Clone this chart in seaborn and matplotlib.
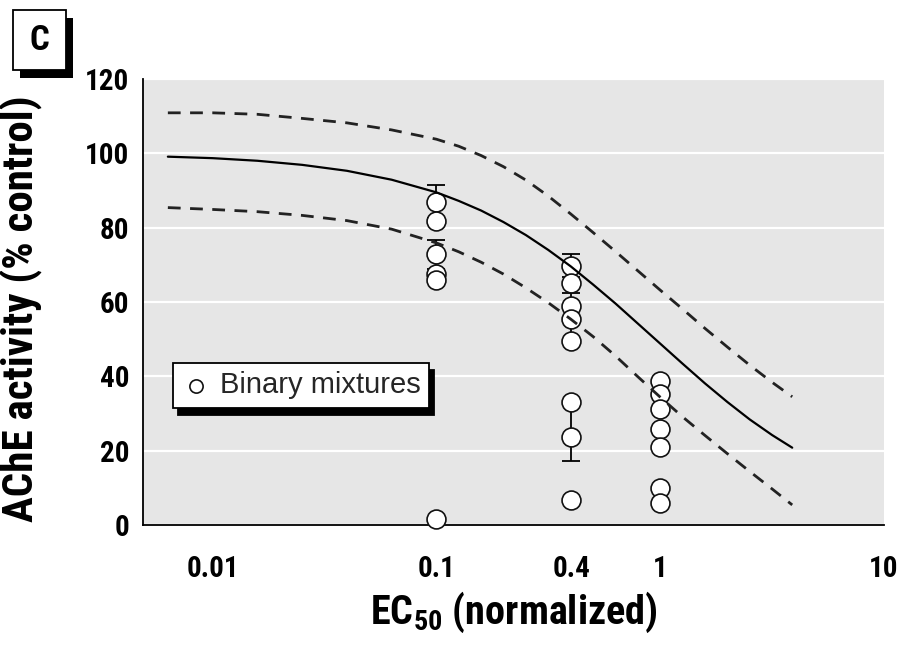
import matplotlib
matplotlib.use("Agg")
import matplotlib.pyplot as plt
from matplotlib import font_manager
from matplotlib.font_manager import FontProperties
from matplotlib.patches import Rectangle
import pandas as pd
import seaborn as sns

# Binary mixtures: dose (fraction of EC50) and measured AChE activity (% control)
mix_dose = [0.1, 0.1, 0.1, 0.1, 0.1, 0.1,
            0.4, 0.4, 0.4, 0.4, 0.4, 0.4, 0.4, 0.4,
            1.0, 1.0, 1.0, 1.0, 1.0, 1.0, 1.0]
mix_activity = [87.0, 81.8, 72.8, 67.5, 65.8, 1.6,
                69.8, 65.0, 58.9, 55.5, 49.5, 33.2, 23.6, 6.8,
                38.7, 35.3, 31.2, 25.8, 20.9, 9.9, 5.9]
mix_err_low = [4.4, 0, 4.0, 0, 0, 0,
               3.0, 0, 3.5, 0, 0, 0, 6.3, 0,
               0, 0, 0, 0, 0, 0, 0]
mix_err_high = [4.4, 0, 4.0, 0, 0, 0,
                3.0, 0, 3.5, 0, 5.0, 0, 9.6, 0,
                0, 0, 0, 0, 0, 0, 0]

# Predicted dose-response curve and its prediction band
curve_dose = [0.00631, 0.01, 0.01585, 0.02512, 0.03981, 0.0631, 0.1,
              0.1259, 0.1585, 0.1995, 0.2512, 0.3162, 0.3981, 0.5012,
              0.631, 0.7943, 1.0, 1.259, 1.585, 1.995, 2.512, 3.162, 3.89]
curve_mean = [99.1, 98.7, 98.0, 96.9, 95.3, 92.9, 89.5,
              87.2, 84.6, 81.5, 78.0, 74.0, 69.6, 64.7,
              59.6, 54.2, 48.8, 43.4, 38.1, 33.1, 28.4, 24.2, 20.8]
curve_upper = [110.9, 110.9, 110.5, 109.4, 108.2, 106.3, 103.8,
               101.9, 99.4, 96.4, 92.8, 88.5, 83.7, 78.7,
               73.6, 68.4, 63.2, 58.1, 52.9, 47.9, 43.0, 38.4, 34.5]
curve_lower = [85.4, 84.9, 84.3, 83.3, 81.9, 79.6, 75.9,
               73.5, 70.7, 67.5, 63.8, 59.8, 55.4, 50.7,
               45.5, 39.9, 34.4, 29.1, 24.1, 19.2, 14.4, 9.7, 5.4]

x_ticks = [0.01, 0.1, 0.4, 1, 10]
x_tick_labels = ["0.01", "0.1", "0.4", "1", "10"]
y_ticks = [0, 20, 40, 60, 80, 100, 120]

sns.set_theme(style="white")

available = {f.name for f in font_manager.fontManager.ttflist}
narrow = next((n for n in ["Liberation Sans Narrow", "Roboto Condensed",
                           "Liberation Sans"] if n in available), "DejaVu Sans")
regular = "Liberation Sans" if "Liberation Sans" in available else "DejaVu Sans"
plt.rcParams["font.family"] = [narrow, "DejaVu Sans"]
plt.rcParams["mathtext.default"] = "regular"

fig = plt.figure(figsize=(9, 6.47), dpi=100)
ax = fig.add_axes([0.1592, 0.1886, 0.8230, 0.6893])
ax.set_facecolor("#e6e6e6")

mix = pd.DataFrame({"dose": mix_dose, "activity": mix_activity,
                    "lo": mix_err_low, "hi": mix_err_high})
curve = pd.DataFrame({"dose": curve_dose, "mean": curve_mean,
                      "upper": curve_upper, "lower": curve_lower})

# error bars sit underneath the open circles
bars = mix[(mix["lo"] > 0) | (mix["hi"] > 0)]
ax.errorbar(bars["dose"], bars["activity"], yerr=[bars["lo"], bars["hi"]],
            fmt="none", ecolor="black", elinewidth=1.3, capsize=6.5,
            capthick=1.3, zorder=3)

sns.scatterplot(data=mix, x="dose", y="activity", ax=ax, s=185,
                color="white", edgecolor="#111111", linewidth=1.2,
                zorder=4, clip_on=False, label="Binary mixtures")

sns.lineplot(data=curve, x="dose", y="mean", ax=ax, color="black",
             linewidth=1.6, zorder=5, sort=True, estimator=None)
for col in ["upper", "lower"]:
    sns.lineplot(data=curve, x="dose", y=col, ax=ax, color="#222222",
                 linewidth=2.0, linestyle=(0, (4.6, 3.4)), zorder=5,
                 sort=True, estimator=None)

ax.set_xscale("log")
ax.set_xlim(0.0049, 10)
ax.set_ylim(0, 120)
ax.set_xticks(x_ticks)
ax.set_xticklabels(x_tick_labels)
ax.xaxis.set_minor_locator(matplotlib.ticker.NullLocator())
ax.set_yticks(y_ticks)
ax.set_yticklabels([str(v) for v in y_ticks])

ax.yaxis.grid(True, color="white", linewidth=1.6)
ax.xaxis.grid(False)
ax.set_axisbelow(True)

for side in ["top", "right"]:
    ax.spines[side].set_visible(False)
for side in ["left", "bottom"]:
    ax.spines[side].set_color("black")
    ax.spines[side].set_linewidth(1.3)

ax.tick_params(axis="x", direction="out", length=13.5, width=1.3,
               color="black", pad=8, labelsize=21, labelcolor="black")
ax.tick_params(axis="y", length=0, pad=10, labelsize=21, labelcolor="black")
for lab in ax.get_xticklabels() + ax.get_yticklabels():
    lab.set_fontweight("bold")

ax.set_xlabel("EC$_{50}$ (normalized)", fontsize=29, fontweight="bold",
              color="black")
ax.xaxis.set_label_coords(0.50, -0.145)
ax.set_ylabel("AChE activity (% control)", fontsize=31, fontweight="bold",
              color="black")
ax.yaxis.set_label_coords(-0.135, 0.485)

leg = ax.legend(loc="upper left", bbox_to_anchor=(0.040, 0.364),
                borderaxespad=0, frameon=True, fancybox=False,
                shadow={"ox": 3.6, "oy": -5, "facecolor": "black",
                        "edgecolor": "black", "alpha": 1},
                prop=FontProperties(family=regular, size=21),
                markerscale=0.7, handletextpad=0.3, borderpad=0.3,
                handlelength=1.0)
frame = leg.get_frame()
frame.set_edgecolor("black")
frame.set_linewidth(1.3)
frame.set_facecolor("white")
frame.set_alpha(1)

# panel letter in a shadowed box
W, H = 900, 647
fig.add_artist(Rectangle((20 / W, 1 - 78 / H), 53 / W, 60 / H,
                         transform=fig.transFigure, facecolor="black",
                         edgecolor="black", linewidth=0))
fig.add_artist(Rectangle((13 / W, 1 - 70 / H), 53 / W, 60 / H,
                         transform=fig.transFigure, facecolor="white",
                         edgecolor="black", linewidth=1.3))
fig.text(39.5 / W, 1 - 40 / H, "C", ha="center", va="center",
         fontsize=25, fontweight="bold", color="black")

fig.savefig("out.png", dpi=100, facecolor="white")
